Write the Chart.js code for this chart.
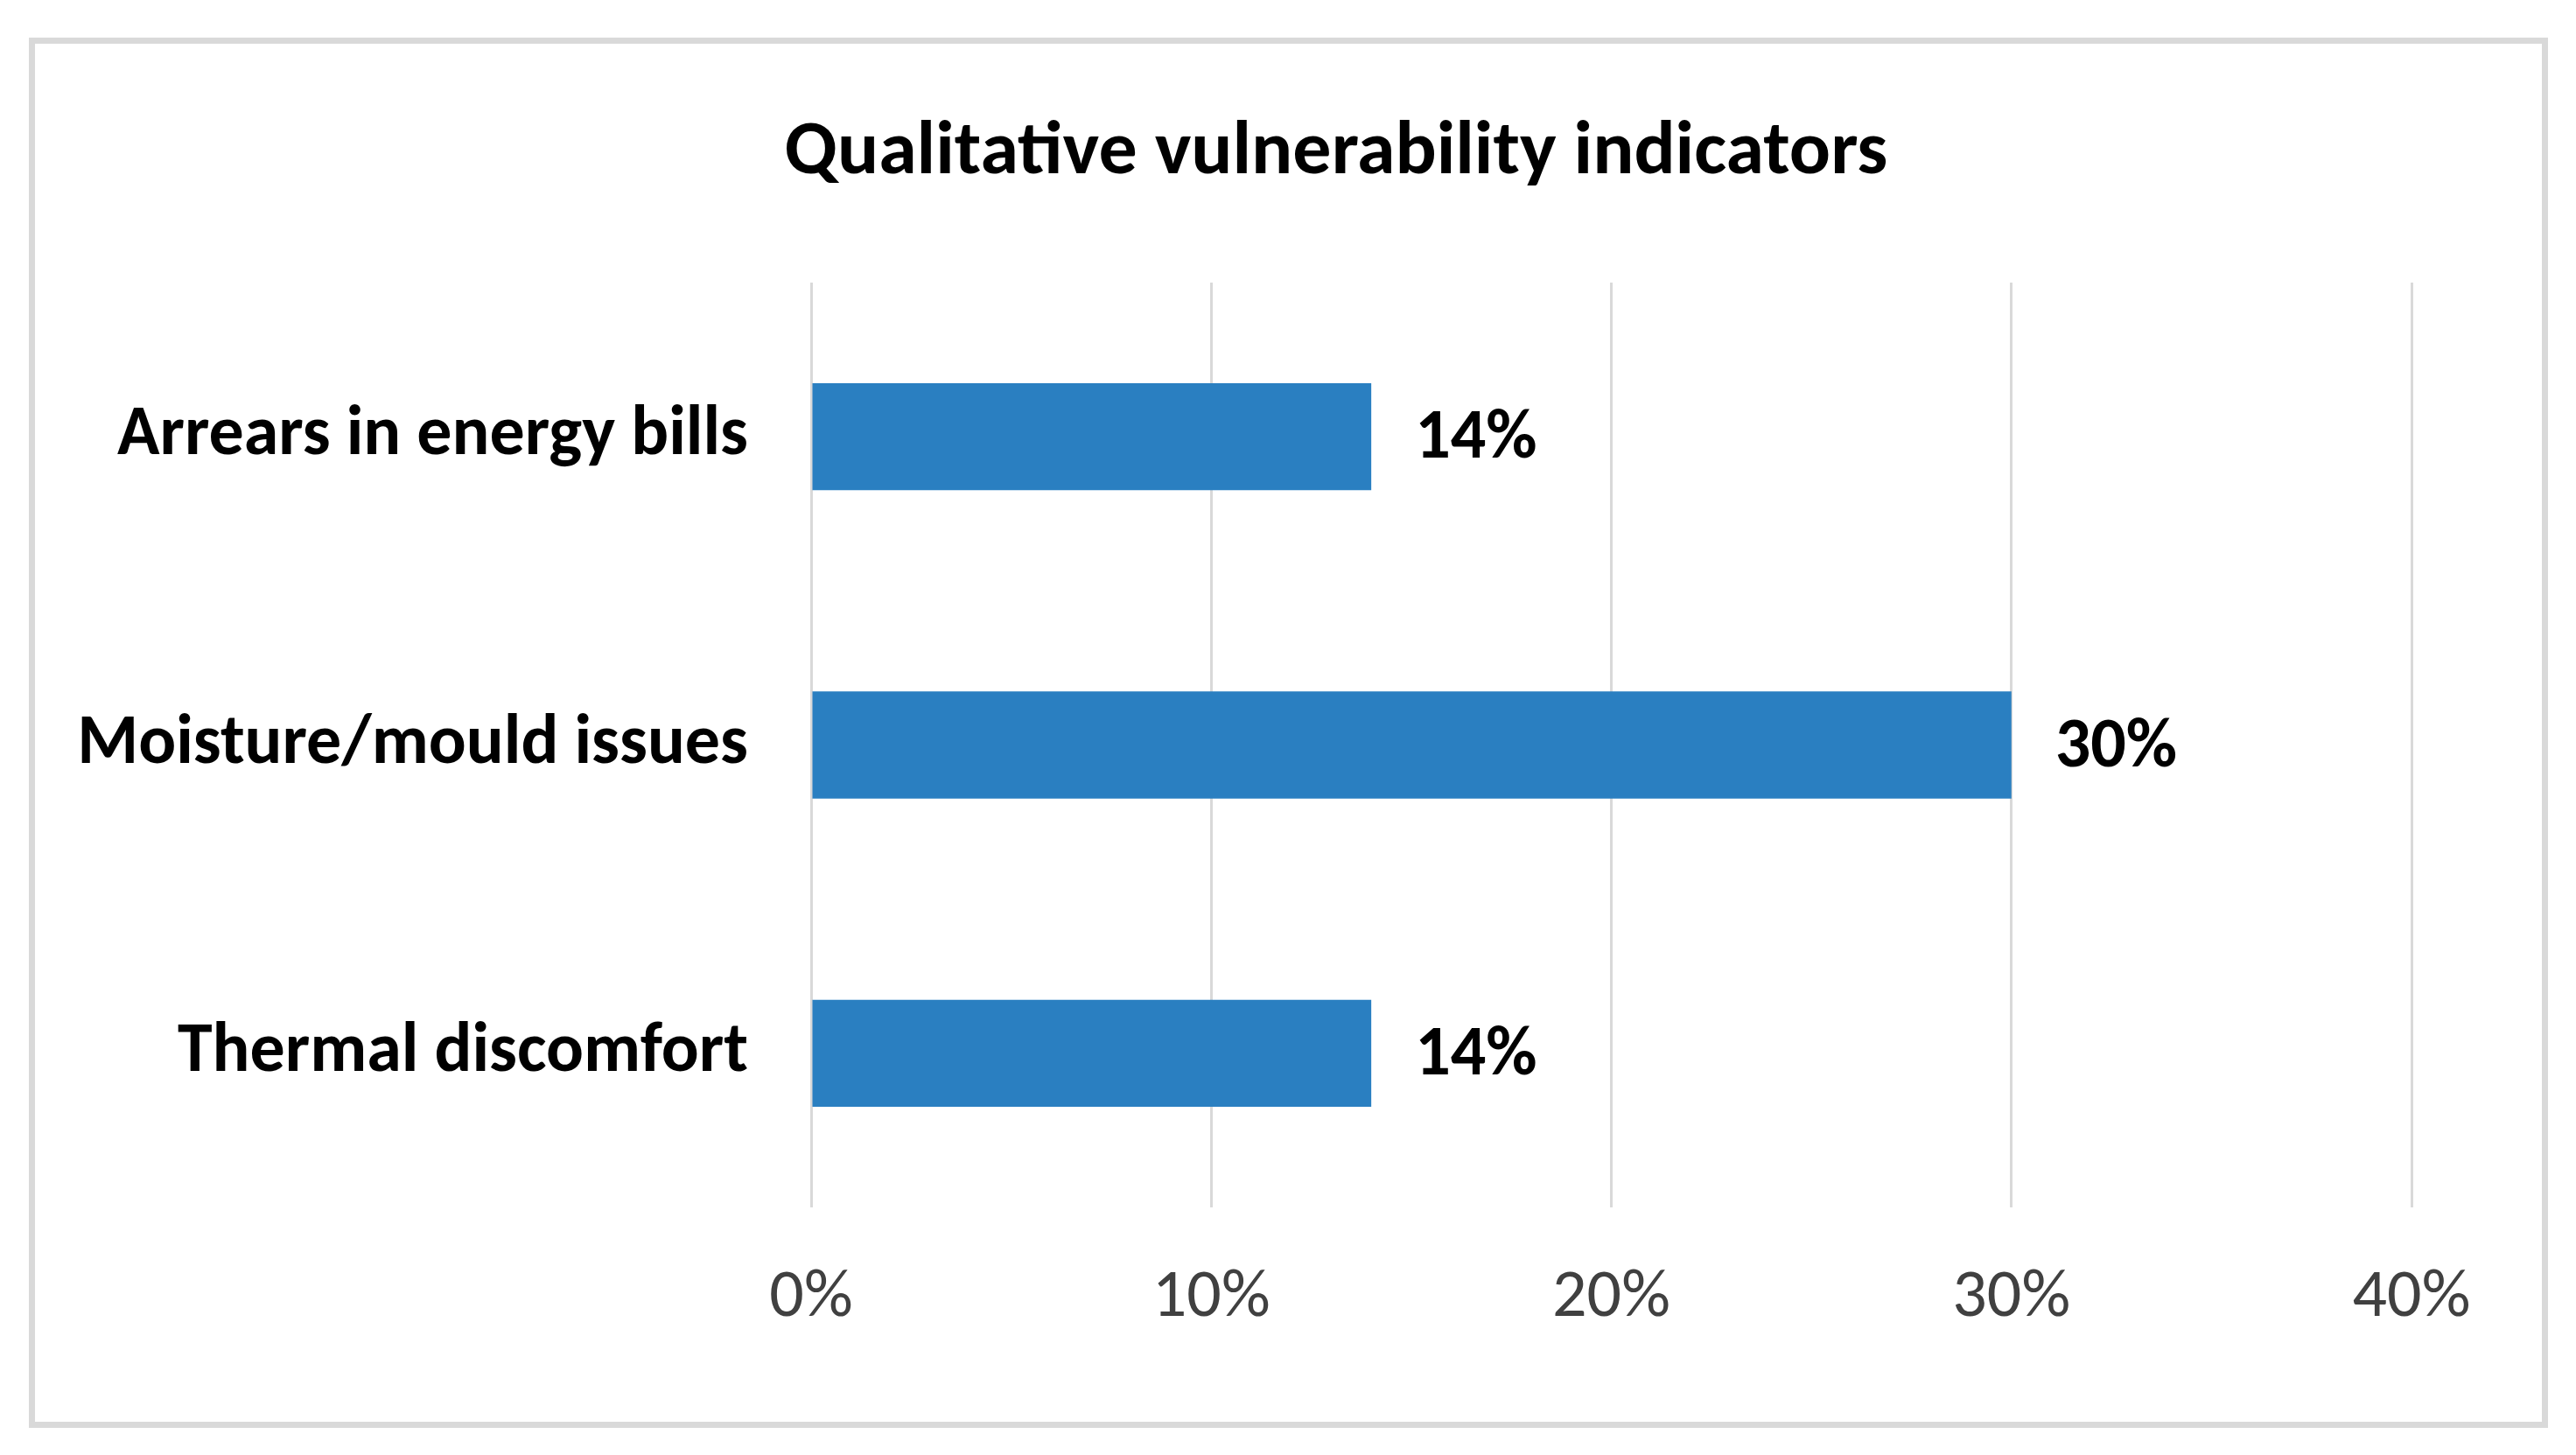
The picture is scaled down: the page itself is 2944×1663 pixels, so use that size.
<!DOCTYPE html>
<html>
<head>
<meta charset="utf-8">
<script src="https://cdn.jsdelivr.net/npm/chart.js@4"></script>
<style>
  html, body { margin: 0; padding: 0; background: #fff; }
  #wrap { position: relative; width: 2944px; height: 1663px; }
  #frame {
    position: absolute; left: 33px; top: 43px; width: 2865px; height: 1575px;
    border: 7px solid #d9d9d9; pointer-events: none;
  }
  canvas { position: absolute; left: 0; top: 0; }
</style>
</head>
<body>
<div id="wrap">
  <canvas id="chart" width="2944" height="1663"></canvas>
  <div id="frame"></div>
</div>
<script>
  // ── data ──
  const categories = ['Arrears in energy bills', 'Moisture/mould issues', 'Thermal discomfort'];
  const shares     = [0.14, 0.30, 0.14];
  const xTicks     = [0, 0.1, 0.2, 0.3, 0.4];
  const chartTitle = 'Qualitative vulnerability indicators';

  const FONT = "Carlito, Lato, 'Open Sans', sans-serif";
  const barBlue = '#2a7fc1';
  const gridGray = '#d9d9d9';

  const pct = v => Math.round(v * 100) + '%';

  // value labels to the right of each bar
  const barLabels = {
    id: 'barLabels',
    afterDatasetsDraw(chart) {
      const ctx = chart.ctx;
      const meta = chart.getDatasetMeta(0);
      ctx.save();
      ctx.font = 'bold 80px ' + FONT;
      ctx.fillStyle = '#000';
      ctx.textAlign = 'left';
      ctx.textBaseline = 'middle';
      meta.data.forEach((bar, i) => {
        ctx.fillText(pct(shares[i]), bar.x + 50, bar.y + 4);
      });
      ctx.restore();
    }
  };

  // title sits centred on the frame, not on the plot, so draw it here
  const frameTitle = {
    id: 'frameTitle',
    afterDraw(chart) {
      const ctx = chart.ctx;
      ctx.save();
      ctx.font = 'bold 88px ' + FONT;
      ctx.fillStyle = '#000';
      ctx.textAlign = 'center';
      ctx.textBaseline = 'middle';
      ctx.fillText(chartTitle, 1527, 176);
      ctx.restore();
    }
  };

  new Chart(document.getElementById('chart'), {
    type: 'bar',
    data: {
      labels: categories,
      datasets: [{
        data: shares,
        backgroundColor: barBlue,
        borderWidth: 0,
        categoryPercentage: 1,
        barPercentage: 0.347
      }]
    },
    options: {
      indexAxis: 'y',
      responsive: false,
      animation: false,
      devicePixelRatio: 1,
      layout: { padding: { left: 0, right: 188, top: 323, bottom: 0 } },
      plugins: {
        legend: { display: false },
        tooltip: { enabled: false },
        title: { display: false }
      },
      scales: {
        x: {
          min: 0,
          max: 0.4,
          afterFit: s => { s.height = 283; },
          afterBuildTicks: s => { s.ticks = xTicks.map(v => ({ value: v })); },
          grid: { color: gridGray, lineWidth: 3, drawTicks: false },
          border: { display: false },
          ticks: {
            color: '#404040',
            padding: 58,
            font: { family: FONT, size: 78 },
            callback: v => pct(v)
          }
        },
        y: {
          afterFit: s => { s.width = 927; },
          grid: { display: false },
          border: { display: false },
          ticks: {
            color: '#000',
            padding: 64,
            font: { family: FONT, size: 80, weight: 'bold' }
          }
        }
      }
    },
    plugins: [barLabels, frameTitle]
  });
</script>
</body>
</html>
